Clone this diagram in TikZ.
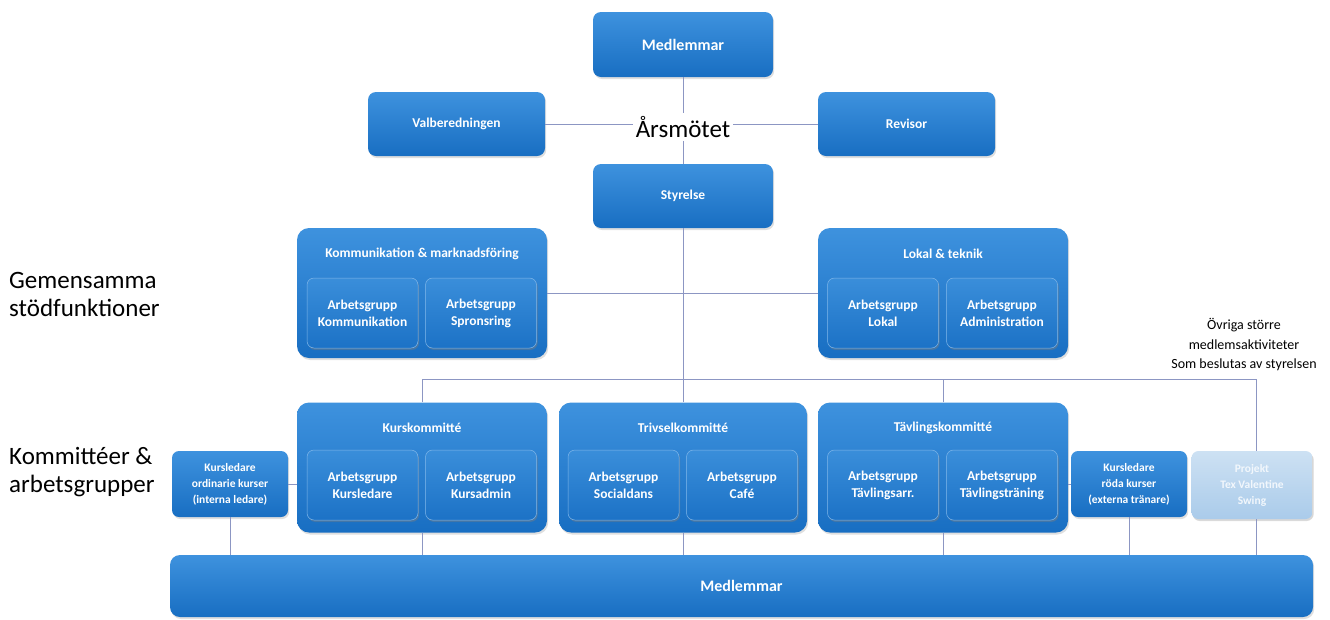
\documentclass[tikz,border=0pt]{standalone}
\usepackage{fontspec}
\setmainfont{Carlito}
\usetikzlibrary{shadows}
\definecolor{btop}{RGB}{62,146,222}
\definecolor{bbot}{RGB}{24,110,194}
\definecolor{itop}{RGB}{58,142,218}
\definecolor{ibot}{RGB}{28,114,198}
\definecolor{lnc}{RGB}{140,150,195}
\definecolor{ftop}{RGB}{205,225,243}
\definecolor{fbot}{RGB}{170,203,234}
\tikzset{
  bbox/.style={rounded corners=8pt, top color=btop, bottom color=bbot, draw=none,
    text=white, align=center, inner sep=0pt,
    drop shadow={opacity=0.25, shadow xshift=1.2pt, shadow yshift=-2pt},
    font=\bfseries\fontsize{13.5}{17}\selectfont},
  outer/.style={bbox, rounded corners=12pt, minimum width=250pt, minimum height=130pt},
  inner/.style={bbox, rounded corners=7pt, top color=itop, bottom color=ibot,
    draw=white!35!btop, line width=0.5pt,
    drop shadow={opacity=0.3, shadow xshift=1pt, shadow yshift=-1.5pt},
    minimum width=111pt, minimum height=70pt},
  small/.style={bbox, rounded corners=7pt, minimum width=116pt, minimum height=66pt,
    font=\bfseries\fontsize{11.5}{16}\selectfont},
  ttl/.style={text=white, font=\bfseries\fontsize{13.5}{17}\selectfont, inner sep=0pt},
  conn/.style={draw=lnc, line width=0.7pt},
  lbl/.style={align=left, anchor=west, inner sep=0pt, font=\fontsize{25}{28}\selectfont}
}
\begin{document}
\begin{tikzpicture}[x=1pt, y=-1pt]
\useasboundingbox[fill=white] (0,0) rectangle (1330,619);

\coordinate (bL) at (422,379);
\coordinate (bR) at (1256,379);

% top tier
\node[bbox, minimum width=180pt, minimum height=65pt, font=\bfseries\fontsize{16}{19}\selectfont] (med) at (683,44.5) {Medlemmar};
\node[bbox, minimum width=177pt, minimum height=64pt] (valb) at (456.5,124) {Valberedningen};
\node[bbox, minimum width=177pt, minimum height=64pt] (rev) at (906.5,124) {Revisor};
\node[inner sep=3pt, font=\fontsize{25}{30}\selectfont] (ars) at (683,127) {Årsmötet};
\node[bbox, minimum width=180pt, minimum height=64pt] (sty) at (683,196) {Styrelse};

% support functions
\node[outer] (km) at (422,293) {};
\node[ttl] (kmt) at ([yshift=-26pt]km.north) {Kommunikation \& marknadsföring};
\node[inner] (km1) at (362.5,313) {Arbetsgrupp\\Kommunikation};
\node[inner] (km2) at (481,313) {Arbetsgrupp\\Spronsring};

\node[outer] (lt) at (943,293) {};
\node[ttl] (ltt) at ([yshift=-26pt]lt.north) {Lokal \& teknik};
\node[inner] (lt1) at (883,313) {Arbetsgrupp\\Lokal};
\node[inner] (lt2) at (1002,313) {Arbetsgrupp\\Administration};

% committees
\node[outer] (kurs) at (422,467.5) {};
\node[ttl] (kurst) at ([yshift=-26pt]kurs.north) {Kurskommitté};
\node[inner] (kurs1) at (362.5,485) {Arbetsgrupp\\Kursledare};
\node[inner] (kurs2) at (481,485) {Arbetsgrupp\\Kursadmin};

\node[outer, minimum width=248pt] (triv) at (683,467.5) {};
\node[ttl] (trivt) at ([yshift=-26pt]triv.north) {Trivselkommitté};
\node[inner] (triv1) at (623.5,485) {Arbetsgrupp\\Socialdans};
\node[inner] (triv2) at (742,485) {Arbetsgrupp\\Café};

\node[outer] (tav) at (943,467.5) {};
\node[ttl] (tavt) at ([yshift=-26pt]tav.north) {Tävlingskommitté};
\node[inner] (tav1) at (883,485) {Arbetsgrupp\\Tävlingsarr.};
\node[inner] (tav2) at (1002,485) {Arbetsgrupp\\Tävlingsträning};

\node[small] (kord) at (230,484) {Kursledare\\ordinarie kurser\\(interna ledare)};
\node[small] (krod) at (1129,484) {Kursledare\\röda kurser\\(externa tränare)};
\node[small, top color=ftop, bottom color=fbot, text=white!85!fbot,
  drop shadow={opacity=0.08, shadow xshift=1pt, shadow yshift=-1.5pt},
  minimum width=121pt, minimum height=68pt] (proj) at (1252,485) {Projekt\\Tex Valentine\\Swing};

\node[bbox, rounded corners=10pt, minimum width=1143pt, minimum height=62pt,
  font=\bfseries\fontsize{16}{19}\selectfont] (bot) at (741.5,586) {Medlemmar};

% text labels
\node[lbl] (gem) at (9,294) {Gemensamma\\stödfunktioner};
\node[lbl] (kom) at (9,472) {Kommittéer \&\\arbetsgrupper};
\node[align=center, inner sep=0pt, font=\fontsize{14}{19.5}\selectfont] (ovr) at (1244,345) {Övriga större\\medlemsaktiviteter\\Som beslutas av styrelsen};

% connectors
\draw[conn] (med.south) -- (ars.north);
\draw[conn] (ars.south) -- (sty.north);
\draw[conn] (valb.east) -- (valb.east -| ars.west);
\draw[conn] (rev.west -| ars.east) -- (rev.west);
\draw[conn] (km.east) -- (lt.west);
\draw[conn] (sty.south) -- (triv.north);
\draw[conn] (kurs.north) -- (bL) -- (bR) -- (bR |- proj.north);
\draw[conn] (tav.north) -- (tav.north |- bL);
\draw[conn] (kord.east) -- (kord.east -| kurs.west);
\draw[conn] (krod.west) -- (krod.west -| tav.east);
\draw[conn] (kord.south) -- (kord.south |- bot.north);
\draw[conn] (kurs.south) -- (kurs.south |- bot.north);
\draw[conn] (triv.south) -- (triv.south |- bot.north);
\draw[conn] (tav.south) -- (tav.south |- bot.north);
\draw[conn] (krod.south) -- (krod.south |- bot.north);
\draw[conn] (bR |- proj.south) -- (bR |- bot.north);
\end{tikzpicture}
\end{document}
